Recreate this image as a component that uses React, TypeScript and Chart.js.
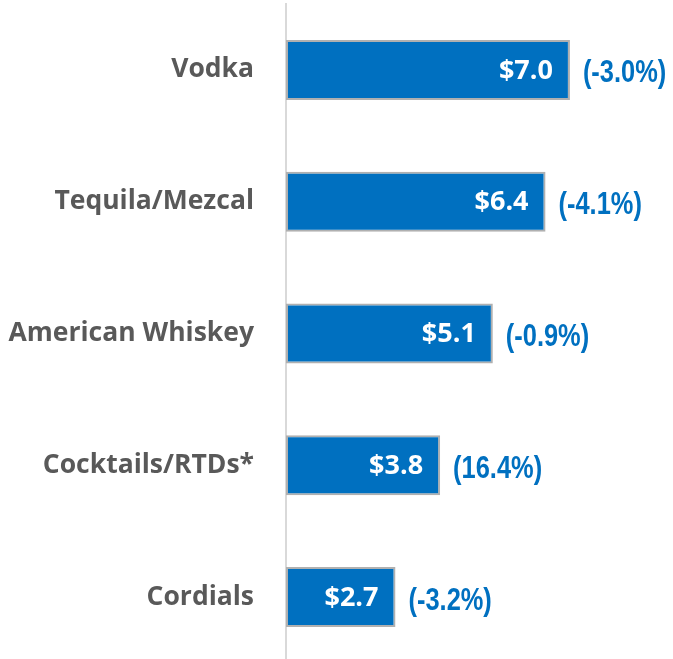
import React, { useEffect, useRef, useState } from "react";
import { Chart, registerables } from "chart.js";

Chart.register(...registerables);

const categories = ["Vodka", "Tequila/Mezcal", "American Whiskey", "Cocktails/RTDs*", "Cordials"];
const values = [7.0, 6.4, 5.1, 3.8, 2.7];
const changes = ["(-3.0%)", "(-4.1%)", "(-0.9%)", "(16.4%)", "(-3.2%)"];

const BLUE = "#0070C0";

const labelPlugin = {
  id: "barLabels",
  afterDatasetsDraw(chart: any) {
    const ctx = chart.ctx;
    const meta = chart.getDatasetMeta(0);
    meta.data.forEach((bar: any, i: number) => {
      const v = values[i];
      ctx.save();
      ctx.textBaseline = "middle";
      ctx.fillStyle = "#ffffff";
      ctx.textAlign = "right";
      ctx.font = "bold 27px 'Open Sans', sans-serif";
      ctx.fillText("$" + v.toFixed(1), bar.x - 17, bar.y + 1);
      ctx.restore();

      ctx.save();
      ctx.fillStyle = BLUE;
      ctx.textAlign = "left";
      ctx.textBaseline = "middle";
      ctx.font = "bold 31px 'Liberation Sans', Arial, sans-serif";
      ctx.translate(bar.x + 13, bar.y + 4);
      ctx.scale(0.82, 1);
      ctx.fillText(changes[i], 0, 0);
      ctx.restore();
    });
  },
};

export default function App() {
  const ref = useRef<HTMLCanvasElement>(null);
  const [ready, setReady] = useState(false);
  useEffect(() => {
    Promise.all([
      document.fonts.load("bold 27px 'Open Sans'"),
      document.fonts.load("bold 31px 'Liberation Sans'"),
    ])
      .catch(() => null)
      .then(() => setReady(true));
  }, []);
  useEffect(() => {
    if (!ready || !ref.current) return;
    const chart = new Chart(ref.current, {
      type: "bar",
      data: {
        labels: categories,
        datasets: [
          {
            data: values,
            backgroundColor: BLUE,
            borderColor: "#b0b0b0",
            borderWidth: 2,
            borderSkipped: false,
            barPercentage: 0.455,
            categoryPercentage: 1,
          },
        ],
      },
      options: {
        indexAxis: "y",
        responsive: false,
        animation: false,
        layout: { padding: { top: 4, right: 22, bottom: 0, left: 0 } },
        plugins: { legend: { display: false }, tooltip: { enabled: false } },
        scales: {
          x: { display: false, min: 0, max: 9 },
          y: {
            afterFit(scale: any) {
              scale.width = 286;
              scale.paddingTop = 0;
              scale.paddingBottom = 0;
            },
            grid: { display: false, drawTicks: false },
            border: { display: true, color: "#d9d9d9", width: 2 },
            ticks: {
              padding: 32,
              color: "#595959",
              font: { family: "'Open Sans', sans-serif", size: 26.5, weight: "bold" },
            },
          },
        },
      },
      plugins: [labelPlugin],
    });
    return () => chart.destroy();
  }, [ready]);
  return (
    <div style={{ position: "absolute", left: 0, top: 0, width: 673, height: 659, overflow: "hidden", background: "#fff" }}>
      <canvas ref={ref} width={673} height={663} style={{ display: "block" }} />
    </div>
  );
}
